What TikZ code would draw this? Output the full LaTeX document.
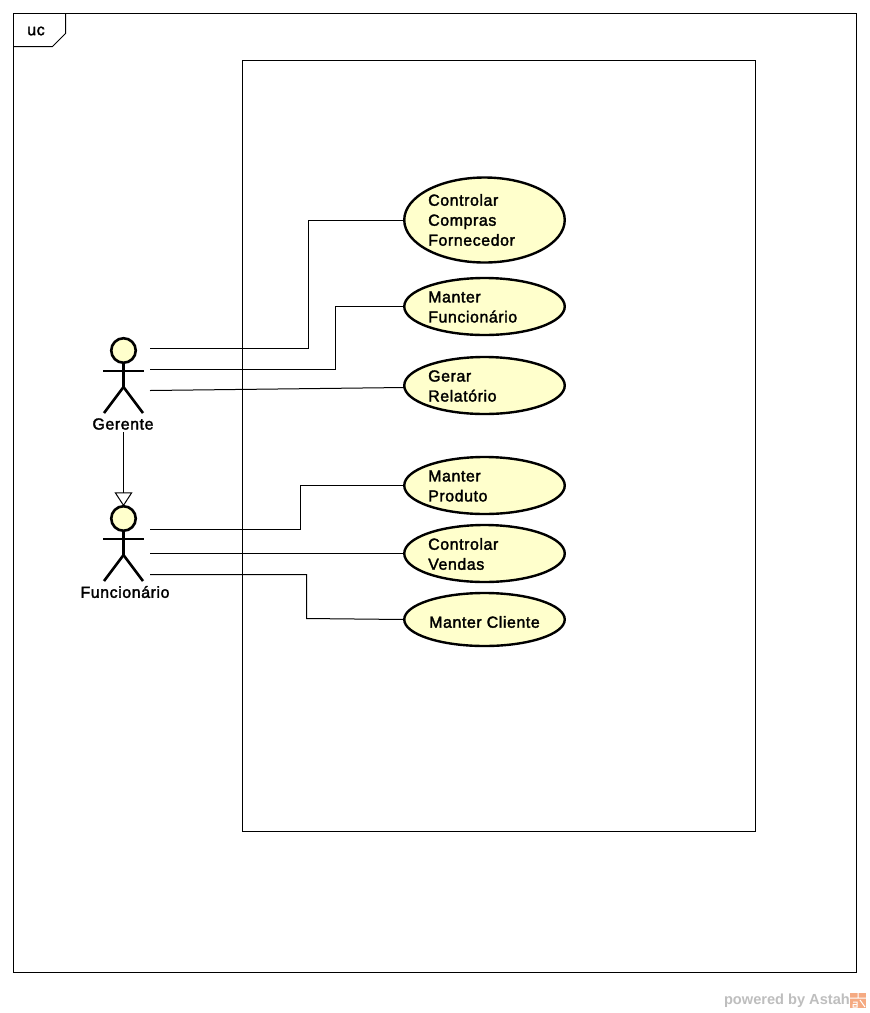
\documentclass[tikz,border=0pt]{standalone}
\usepackage{fontspec}
\setmainfont{Liberation Sans}
\newfontfamily\lblfont[FakeBold=2,LetterSpace=3.4]{Liberation Sans}
\usetikzlibrary{arrows.meta,shapes.geometric}
\definecolor{ucfill}{RGB}{255,255,204}
\definecolor{wm}{RGB}{190,190,190}
\definecolor{logo}{RGB}{245,170,130}
\tikzset{
  thinline/.style={draw=black,line width=1pt},
  usecase/.style={ellipse,draw=black,line width=2.4pt,fill=ucfill,minimum width=160.5pt,inner sep=0pt,outer sep=0pt},
  uctext/.style={font=\lblfont\fontsize{16}{20}\selectfont,text=black,align=left,inner sep=0pt,anchor=west},
  actorlabel/.style={font=\lblfont\fontsize{16}{20}\selectfont,text=black,inner sep=0pt,anchor=center},
  actorhead/.style={circle,draw=black,line width=2.6pt,fill=ucfill,minimum size=24.5pt,inner sep=0pt,outer sep=0pt},
  actorline/.style={draw=black,line width=2.6pt},
  gen/.style={thinline,-{Triangle[open,length=14pt,width=18pt,line width=1pt]}},
}
\begin{document}
\begin{tikzpicture}[x=1pt,y=-1pt]
\useasboundingbox[fill=white] (0,0) rectangle (870,1013);
% frame
\draw[thinline] (13.5,13.5) rectangle (856.5,972.5);
\draw[thinline] (13.5,46.5) -- (52.5,46.5) -- (65.5,33.5) -- (65.5,13.5);
\node[actorlabel] (uc) at (36,31) {uc};
% boundary
\draw[thinline] (242.5,60.5) rectangle (755.5,831.5);
% use cases
\node[usecase,minimum height=85pt] (u1) at (484.5,220) {};
\node[usecase,minimum height=57pt] (u2) at (484.5,306.5) {};
\node[usecase,minimum height=57pt] (u3) at (484.5,385.5) {};
\node[usecase,minimum height=57pt] (u4) at (484.5,485.5) {};
\node[usecase,minimum height=57pt] (u5) at (484.5,553.5) {};
\node[usecase,minimum height=53pt] (u6) at (484.5,619.5) {};
\node[uctext] (t1) at (428,220) {Controlar\\Compras\\Fornecedor};
\node[uctext] (t2) at (428,307) {Manter\\Funcionário};
\node[uctext] (t3) at (428,386) {Gerar\\Relatório};
\node[uctext] (t4) at (428,486) {Manter\\Produto};
\node[uctext] (t5) at (428,554) {Controlar\\Vendas};
\node[actorlabel] (t6) at (484.5,622) {Manter Cliente};
% actor Gerente
\node[actorhead] (gh) at (123.5,350.5) {};
\coordinate (gb) at (123.5,387);
\coordinate (ga) at (123.5,371);
\draw[actorline] (gh.south) -- (gb);
\draw[actorline] (ga) ++(-20.5,0) -- ++(41,0);
\draw[actorline] (gb) -- (104,413);
\draw[actorline] (gb) -- (143,413);
\node[actorlabel] (gl) at (123,424) {Gerente};
% actor Funcionario
\node[actorhead] (fh) at (123.5,518.5) {};
\coordinate (fb) at (123.5,555);
\coordinate (fa) at (123.5,539);
\draw[actorline] (fh.south) -- (fb);
\draw[actorline] (fa) ++(-20.5,0) -- ++(41,0);
\draw[actorline] (fb) -- (104,581);
\draw[actorline] (fb) -- (143,581);
\node[actorlabel] (fl) at (125,592) {Funcionário};
% generalization
\coordinate (gs) at (123.5,432);
\draw[gen] (gs) -- (fh.north);
% connectors
\coordinate (g1) at (150,348.5);
\coordinate (g2) at (150,369.5);
\coordinate (g3) at (150,390.5);
\coordinate (f1) at (150,529.5);
\coordinate (f2) at (150,553.5);
\coordinate (f3) at (150,574.5);
\coordinate (k1) at (308.5,348.5);
\coordinate (k2) at (335.5,369.5);
\coordinate (k4) at (300.5,529.5);
\coordinate (k6) at (306.5,574.5);
\draw[thinline] (g1) -- (k1) |- (u1.west);
\draw[thinline] (g2) -- (k2) |- (u2.west);
\draw[thinline] (g3) -- ([yshift=-2pt]u3.west);
\draw[thinline] (f1) -- (k4) |- (u4.west);
\draw[thinline] (f2) -- (u5.west);
\draw[thinline] (f3) -- (k6) -- (306.5,618.5) -- (u6.west);
% watermark
\node[font=\bfseries\fontsize{14.6}{16}\selectfont,text=wm,inner sep=0pt,anchor=east] (wmk) at (850,1001) {powered by Astah};
\fill[logo] (850,993) rectangle (866,1008);
\draw[white,line width=1pt] (850,998) -- (866,998) (858,993) -- (858,998) (853,1002) -- (857,1002) -- (857,1007) -- (853,1007) -- (853,1004.5) -- (857,1004.5) (860,1000) -- (865,1007);
\end{tikzpicture}
\end{document}
